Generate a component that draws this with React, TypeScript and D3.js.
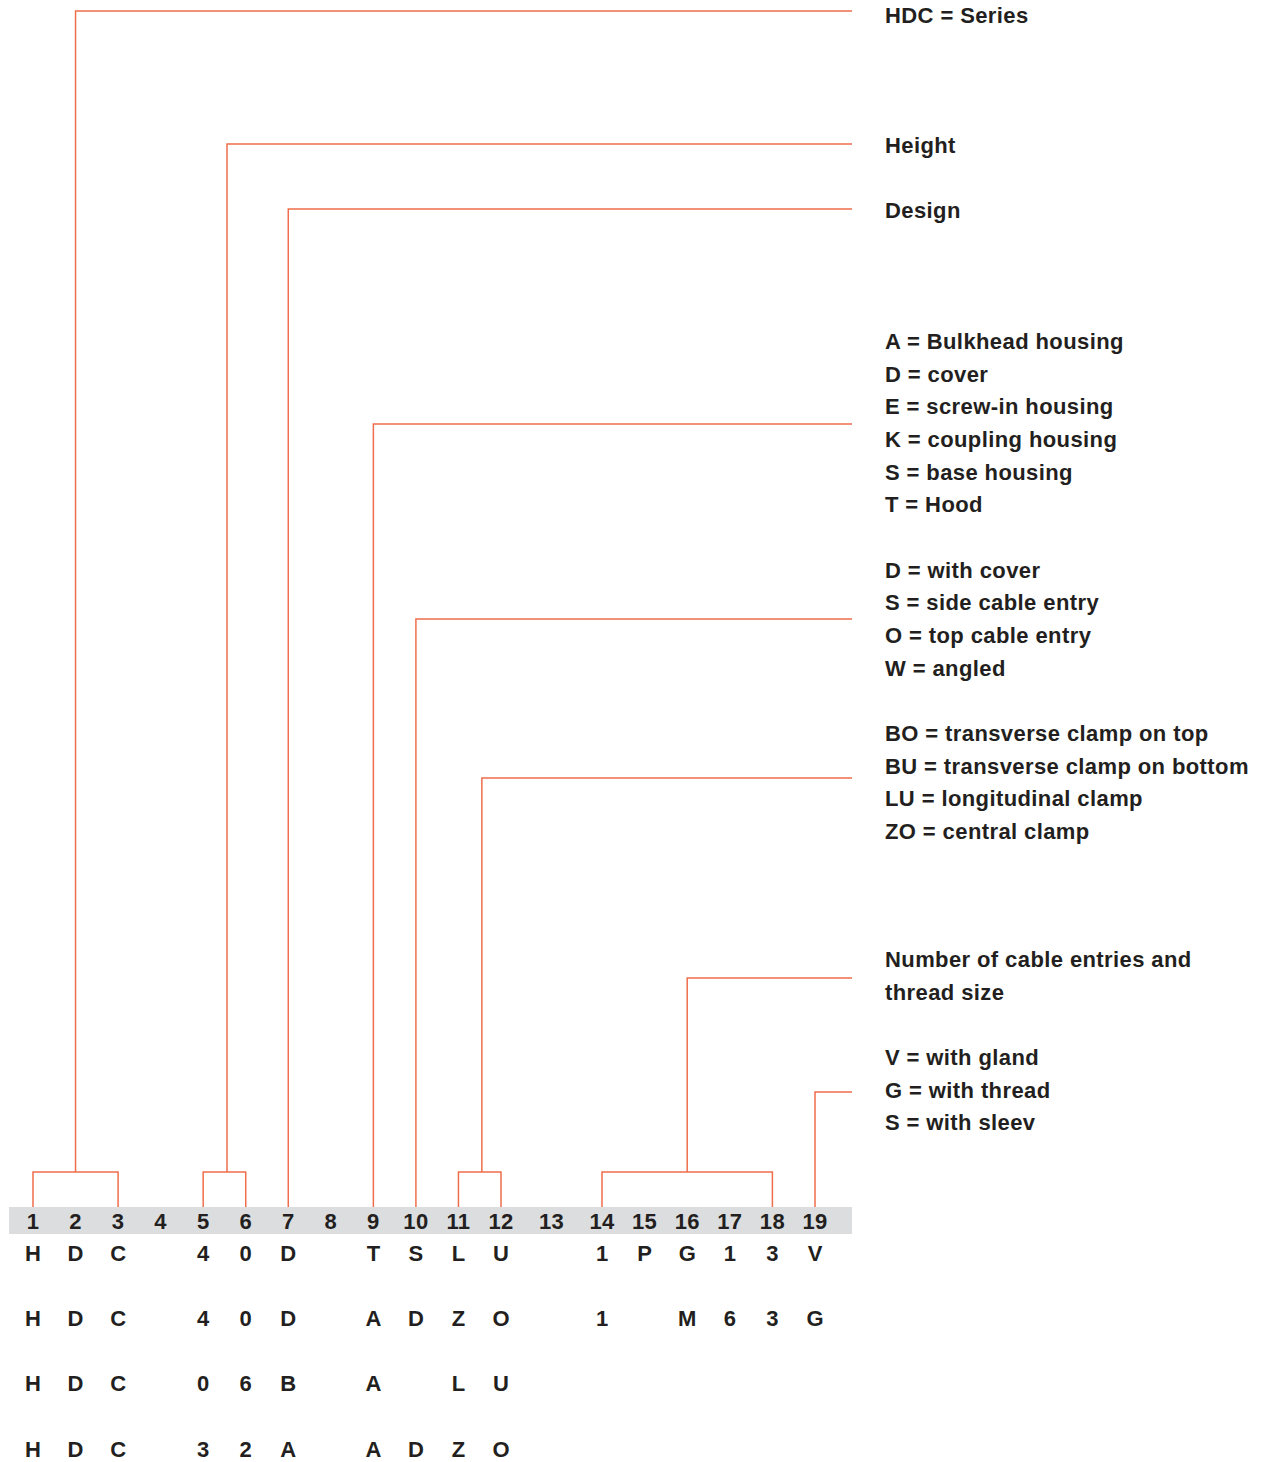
import React from "react";
import * as d3 from "d3";

const positions = ["1","2","3","4","5","6","7","8","9","10","11","12","13","14","15","16","17","18","19"];
const codeRows = [
  ["H","D","C","","4","0","D","","T","S","L","U","","1","P","G","1","3","V"],
  ["H","D","C","","4","0","D","","A","D","Z","O","","1","","M","6","3","G"],
  ["H","D","C","","0","6","B","","A","","L","U","","","","","","",""],
  ["H","D","C","","3","2","A","","A","D","Z","O","","","","","","",""],
];
// groups: positions covered, stem position (column units), label line key
const groups = [
  { from: 1, to: 3, stem: 2, line: "Series" },
  { from: 5, to: 6, stem: 5.56, line: "Height" },
  { from: 7, to: 7, stem: 7, line: "Design" },
  { from: 9, to: 9, stem: 9, line: "K" },
  { from: 10, to: 10, stem: 10, line: "O" },
  { from: 11, to: 12, stem: 11.55, line: "BU2" },
  { from: 14, to: 18, stem: 16, line: "Num" },
  { from: 19, to: 19, stem: 19, line: "G" },
];
const labelLines = [
  { key: "Series", text: "HDC = Series", y: 15 },
  { key: "Height", text: "Height", y: 145.5 },
  { key: "Design", text: "Design", y: 210.5 },
  { key: "A", text: "A = Bulkhead housing", y: 341 },
  { key: "D", text: "D = cover", y: 374 },
  { key: "E", text: "E = screw-in housing", y: 406.5 },
  { key: "K", text: "K = coupling housing", y: 439 },
  { key: "S", text: "S = base housing", y: 472 },
  { key: "T", text: "T = Hood", y: 504.5 },
  { key: "D2", text: "D = with cover", y: 570 },
  { key: "S2", text: "S = side cable entry", y: 602.5 },
  { key: "O", text: "O = top cable entry", y: 635 },
  { key: "W", text: "W = angled", y: 668 },
  { key: "BO", text: "BO = transverse clamp on top", y: 733 },
  { key: "BU", text: "BU = transverse clamp on bottom", y: 766 },
  { key: "LU", text: "LU = longitudinal clamp", y: 798.5 },
  { key: "ZO", text: "ZO = central clamp", y: 831.5 },
  { key: "Num", text: "Number of cable entries and", y: 959.5 },
  { key: "Num2", text: "thread size", y: 992 },
  { key: "V", text: "V = with gland", y: 1057 },
  { key: "G", text: "G = with thread", y: 1090 },
  { key: "S3", text: "S = with sleev", y: 1122.5 },
];
const lineYs: Record<string, number> = {
  Series: 11, Height: 144, Design: 209, K: 424, O: 619, BU2: 778, Num: 978, G: 1092,
};

const ORANGE = "#f06e4c";
const TEXT = "#231f20";
const FONT = "'Liberation Sans', Arial, Helvetica, sans-serif";

export default function App() {
  const left = d3.scaleLinear().domain([1, 12]).range([33, 501]);
  const right = d3.scaleLinear().domain([14, 19]).range([602, 815]);
  const x = (p: number) => (p <= 12 ? left(p) : p >= 14 ? right(p) : (left(12) + right(14)) / 2);
  const barTop = 1207, barBot = 1234, bracketY = 1172, lineEnd = 852;
  const rowY = d3.scaleLinear().domain([0, 3]).range([1253, 1449]);

  return (
    <svg width={1262} height={1462} style={{ position: "absolute", left: 0, top: 0, background: "#fff" }}
      fontFamily={FONT} fontWeight="bold">
      <rect x={9} y={barTop} width={843} height={barBot - barTop} fill="#dcdddf" />
      {positions.map((p, i) => (
        <text key={p} x={x(i + 1)} y={1221} textAnchor="middle" dominantBaseline="central" fontSize={22} letterSpacing={0.3} fill={TEXT}>{p}</text>
      ))}
      {codeRows.map((row, r) =>
        row.map((c, i) => c ? (
          <text key={`${r}-${i}`} x={x(i + 1)} y={rowY(r)} textAnchor="middle" dominantBaseline="central" fontSize={22} fill={TEXT}>{c}</text>
        ) : null)
      )}
      <g stroke={ORANGE} strokeWidth={1.5} fill="none">
        {groups.map((g) => {
          const ly = lineYs[g.line];
          const sx = x(g.stem);
          if (g.from === g.to) {
            return <path key={g.line} d={`M${sx},${barTop}V${ly}H${lineEnd}`} />;
          }
          const x1 = x(g.from), x2 = x(g.to);
          return (
            <path key={g.line} d={`M${x1},${barTop}V${bracketY}H${x2}V${barTop}M${sx},${bracketY}V${ly}H${lineEnd}`} />
          );
        })}
      </g>
      {labelLines.map((l) => (
        <text key={l.key} x={885} y={l.y} dominantBaseline="central" fontSize={22} letterSpacing={0.4} fill={TEXT}>{l.text}</text>
      ))}
    </svg>
  );
}
